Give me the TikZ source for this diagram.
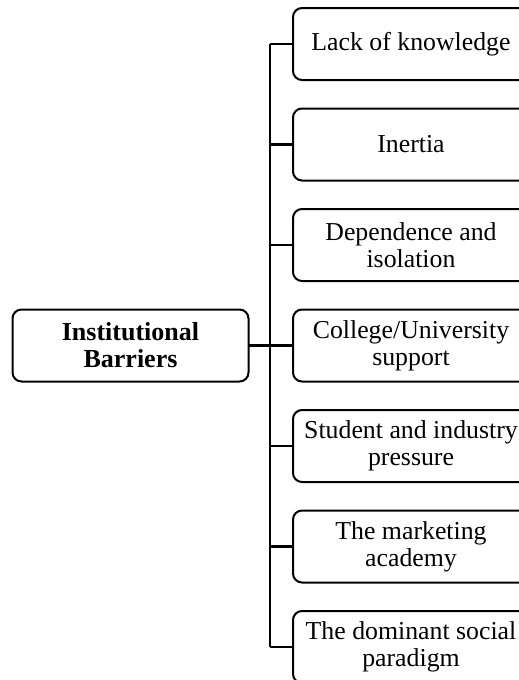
\documentclass[tikz,border=0pt]{standalone}
\usepackage{fontspec}
\setmainfont{Liberation Serif}
\usetikzlibrary{positioning}

\tikzset{
	barrier/.style={draw, line width=1pt, rounded corners=4.5pt, align=center,
		minimum width=118pt, minimum height=36pt, inner sep=2pt, outer sep=0pt,
		font=\fontsize{12.9}{13.5}\selectfont},
	branch/.style={line width=1.1pt},
}

\begin{document}
\begin{tikzpicture}[x=0.5pt, y=-0.5pt, node distance=14.25pt]
		\useasboundingbox (0,0) rectangle (519,680);
		\clip (0,0) rectangle (519,680);
		
		\node [barrier, font=\fontsize{13}{13.5}\selectfont\bfseries] (inst) at (130.5,345.5) {Institutional\\Barriers};
		\coordinate (trunk) at (270,0);
		
		\node [barrier, anchor=west] (b1) at (293,44) {Lack of knowledge};
		\node [barrier, below = of b1] (b2) {Inertia};
		\node [barrier, below = of b2] (b3) {Dependence and\\isolation};
		\node [barrier, below = of b3] (b4) {College/University\\support};
		\node [barrier, below = of b4] (b5) {Student and industry\\pressure};
		\node [barrier, below = of b5] (b6) {The marketing\\academy};
		\node [barrier, below = of b6] (b7) {The dominant social\\paradigm};
		
		\draw [branch] (inst.east) -- (inst.east -| trunk);
		\draw [branch] (b1.west -| trunk) -- (b7.west -| trunk);
		\foreach \b in {b1,b2,b3,b4,b5,b6,b7}
			\draw [branch] (\b.west) -- (\b.west -| trunk);
	\end{tikzpicture}
\end{document}
